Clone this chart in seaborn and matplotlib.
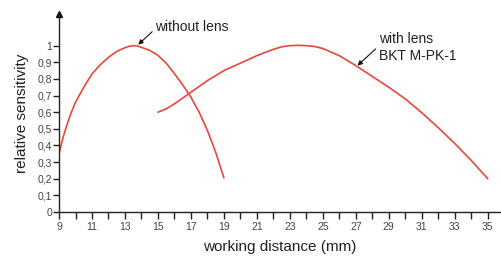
import numpy as np
import pandas as pd
import seaborn as sns
import matplotlib
matplotlib.use("Agg")
import matplotlib.pyplot as plt

# values
dist_no_lens = [9, 9.25, 9.5, 9.75, 10, 10.5, 11, 11.5, 12, 12.5, 13, 13.25, 13.5, 13.75,
                14, 14.5, 15, 15.5, 16, 16.5, 17, 17.5, 18, 18.5, 19]
sens_no_lens = [0.35, 0.45, 0.53, 0.6, 0.66, 0.75, 0.83, 0.885, 0.93, 0.965, 0.988, 0.996, 1.0, 0.998,
                0.99, 0.972, 0.942, 0.895, 0.832, 0.765, 0.69, 0.6, 0.49, 0.36, 0.205]

dist_lens = [15, 15.5, 16, 17, 18, 19, 20, 21, 22, 22.5, 23, 23.5, 24, 24.5, 25,
             26, 27, 28, 29, 30, 31, 32, 33, 34, 35]
sens_lens = [0.6, 0.62, 0.65, 0.72, 0.79, 0.85, 0.895, 0.94, 0.978, 0.993, 1.0, 1.002, 1.0, 0.995, 0.983,
             0.94, 0.88, 0.815, 0.75, 0.68, 0.597, 0.507, 0.412, 0.31, 0.2]

x_major = list(range(9, 36, 2))
x_minor = list(range(10, 35, 2))
y_ticks = [0, 0.1, 0.2, 0.3, 0.4, 0.5, 0.6, 0.7, 0.8, 0.9, 1.0]
y_labels = ["0", "0,1", "0,2", "0,3", "0,4", "0,5", "0,6", "0,7", "0,8", "0,9", "1"]

df = pd.concat([
    pd.DataFrame({"dist": dist_no_lens, "sens": sens_no_lens, "curve": "without lens"}),
    pd.DataFrame({"dist": dist_lens, "sens": sens_lens, "curve": "with lens"}),
])

sns.set_style("white")
plt.rcParams["font.family"] = ["Liberation Sans", "DejaVu Sans"]

fig = plt.figure(figsize=(5.01, 2.56), dpi=100)
ax = fig.add_axes([0.1178, 0.172, 0.882, 0.773])

red = "#e8473d"
sns.lineplot(data=df, x="dist", y="sens", hue="curve", units="curve", estimator=None,
             palette={"without lens": red, "with lens": red}, linewidth=1.2,
             legend=False, sort=False, ax=ax)
for ln in ax.lines:
    ln.set_solid_joinstyle("round")

ax.set_xlim(9, 35.8)
ax.set_ylim(0, 1.19)
sns.despine(ax=ax)
for s in ["left", "bottom"]:
    ax.spines[s].set_color("#222222")
    ax.spines[s].set_linewidth(1.0)

ax.set_xticks(x_major)
ax.set_xticks(x_minor, minor=True)
ax.set_yticks(y_ticks)
ax.set_yticklabels(y_labels)
ax.tick_params(axis="both", which="both", direction="out", color="#222222",
               labelsize=7.5, labelcolor="#444444", bottom=True, left=True)
ax.tick_params(axis="x", which="both", length=5, width=1.0, pad=2)
ax.tick_params(axis="y", length=4, width=1.0, pad=1)

# arrow head on the y axis
ax.plot([0], [1.0], marker="^", color="#111111", markersize=5,
        transform=ax.transAxes, clip_on=False)

ax.set_xlabel("working distance (mm)", fontsize=11, color="#222222", labelpad=6)
ax.set_ylabel("relative sensitivity", fontsize=11, color="#222222", labelpad=6)

ax.annotate("without lens", xy=(13.8, 1.006), xytext=(14.85, 1.115),
            fontsize=10, color="#222222", va="center", ha="left",
            arrowprops=dict(arrowstyle="-|>", color="#111111", lw=0.8,
                            mutation_scale=7, shrinkA=0, shrinkB=0,
                            relpos=(-0.01, 0.3)))
ax.annotate("with lens\nBKT M-PK-1", xy=(27.1, 0.88), xytext=(28.4, 0.99),
            fontsize=10, color="#222222", va="center", ha="left", linespacing=1.25,
            arrowprops=dict(arrowstyle="-|>", color="#111111", lw=0.8,
                            mutation_scale=7, shrinkA=0, shrinkB=0,
                            relpos=(-0.02, 0.5)))

fig.savefig("out.png", dpi=100)
